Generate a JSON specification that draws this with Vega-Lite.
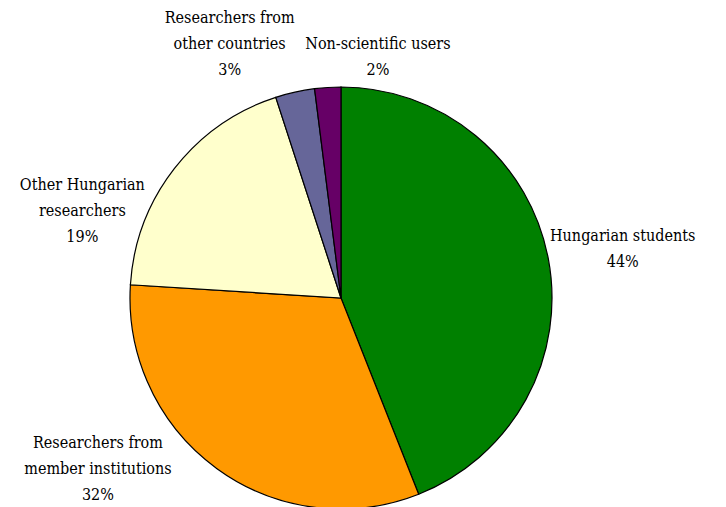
{
  "$schema": "https://vega.github.io/schema/vega-lite/v6.json",
  "width": 682,
  "height": 414,
  "autosize": "none",
  "padding": {"left": 0, "right": 44, "top": 91, "bottom": 2},
  "background": "white",
  "config": {"view": {"stroke": null}},
  "data": {
    "values": [
      {"order": 1, "cat": "Hungarian students", "pct": 44, "label": "Hungarian students\n44%"},
      {"order": 2, "cat": "Researchers from member institutions", "pct": 32, "label": "Researchers from\nmember institutions\n32%"},
      {"order": 3, "cat": "Other Hungarian researchers", "pct": 19, "label": "Other Hungarian\nresearchers\n19%"},
      {"order": 4, "cat": "Researchers from other countries", "pct": 3, "label": "Researchers from\nother countries\n3%"},
      {"order": 5, "cat": "Non-scientific users", "pct": 2, "label": "Non-scientific users\n2%"}
    ]
  },
  "encoding": {
    "theta": {"field": "pct", "type": "quantitative", "stack": true},
    "order": {"field": "order", "type": "quantitative"}
  },
  "layer": [
    {
      "mark": {"type": "arc", "outerRadius": 211, "stroke": "black", "strokeWidth": 1.2},
      "encoding": {
        "color": {
          "field": "cat", "type": "nominal", "legend": null,
          "scale": {
            "domain": ["Hungarian students", "Researchers from member institutions", "Other Hungarian researchers", "Researchers from other countries", "Non-scientific users"],
            "range": ["#008000", "#FF9900", "#FFFFCC", "#666699", "#660066"]
          }
        }
      }
    },
    {
      "mark": {"type": "text", "radius": 240, "dx": 46, "dy": -17, "font": "DejaVu Serif Condensed", "fontSize": 16, "lineBreak": "\n", "lineHeight": 26, "align": "center", "baseline": "middle", "color": "black"},
      "encoding": {"text": {"condition": {"test": "datum.order === 1", "field": "label"}, "value": ""}}
    },
    {
      "mark": {"type": "text", "radius": 240, "dx": -102, "dy": -49, "font": "DejaVu Serif Condensed", "fontSize": 16, "lineBreak": "\n", "lineHeight": 26, "align": "center", "baseline": "middle", "color": "black"},
      "encoding": {"text": {"condition": {"test": "datum.order === 2", "field": "label"}, "value": ""}}
    },
    {
      "mark": {"type": "text", "radius": 240, "dx": -69, "dy": 34, "font": "DejaVu Serif Condensed", "fontSize": 16, "lineBreak": "\n", "lineHeight": 26, "align": "center", "baseline": "middle", "color": "black"},
      "encoding": {"text": {"condition": {"test": "datum.order === 3", "field": "label"}, "value": ""}}
    },
    {
      "mark": {"type": "text", "radius": 240, "dx": -59, "dy": -46, "font": "DejaVu Serif Condensed", "fontSize": 16, "lineBreak": "\n", "lineHeight": 26, "align": "center", "baseline": "middle", "color": "black"},
      "encoding": {"text": {"condition": {"test": "datum.order === 4", "field": "label"}, "value": ""}}
    },
    {
      "mark": {"type": "text", "radius": 240, "dx": 52, "dy": -14, "font": "DejaVu Serif Condensed", "fontSize": 16, "lineBreak": "\n", "lineHeight": 26, "align": "center", "baseline": "middle", "color": "black"},
      "encoding": {"text": {"condition": {"test": "datum.order === 5", "field": "label"}, "value": ""}}
    }
  ]
}
